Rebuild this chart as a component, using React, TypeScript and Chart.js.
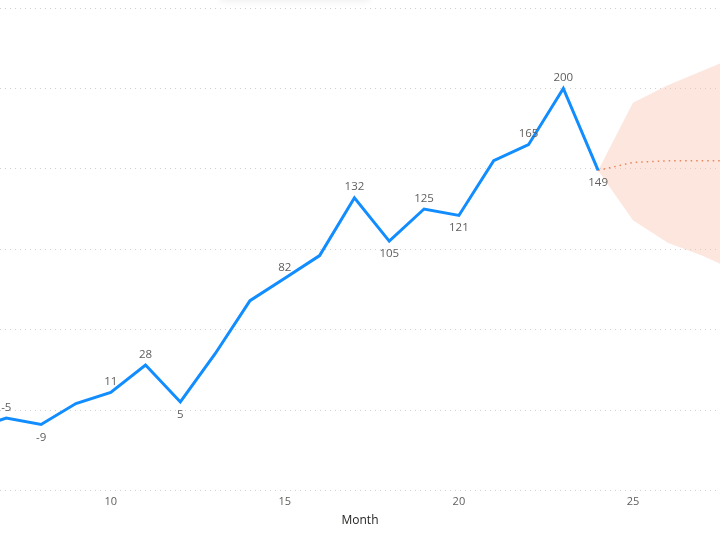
import React, { useEffect, useRef } from "react";
import { Chart, registerables } from "chart.js";

Chart.register(...registerables);

const months = [6, 7, 8, 9, 10, 11, 12, 13, 14, 15, 16, 17, 18, 19, 20, 21, 22, 23, 24];
const actual = [-12, -5, -9, 4, 11, 28, 5, 35, 68, 82, 96, 132, 105, 125, 121, 155, 165, 200, 149];
const labelPlacement = ["", "above", "below", "", "above", "above", "below", "", "", "above", "", "above", "below", "above", "below", "", "above", "above", "below"];

const forecastMonths = [24, 25, 26, 27, 28];
const forecast = [149, 154, 155, 155, 155];
const upperBound = [149, 191, 202, 211, 220];
const lowerBound = [149, 118, 104, 96, 86];

const xTicks = [10, 15, 20, 25];
const yGrid = [-50, 0, 50, 100, 150, 200, 250];

const labelsPlugin = {
  id: "pointLabels",
  afterDatasetsDraw(chart: any) {
    const meta = chart.getDatasetMeta(0);
    const ctx = chart.ctx;
    ctx.save();
    ctx.font = "11.5px 'Segoe UI', 'Open Sans', sans-serif";
    ctx.fillStyle = "#605E5C";
    ctx.textAlign = "center";
    meta.data.forEach((pt: any, i: number) => {
      const pos = labelPlacement[i];
      if (!pos) return;
      const text = String(actual[i]);
      if (pos === "above") {
        ctx.textBaseline = "bottom";
        ctx.fillText(text, pt.x, pt.y - 5);
      } else {
        ctx.textBaseline = "top";
        ctx.fillText(text, pt.x, pt.y + 7);
      }
    });
    ctx.restore();
  },
};

export default function App() {
  const ref = useRef<HTMLCanvasElement>(null);
  useEffect(() => {
    document.body.style.margin = "0";
    const toPts = (xs: number[], ys: number[]) => xs.map((x, i) => ({ x, y: ys[i] }));
    const chart = new Chart(ref.current!, {
      type: "line",
      data: {
        datasets: [
          {
            data: toPts(months, actual),
            borderColor: "#118DFF",
            borderWidth: 3,
            pointRadius: 0,
            tension: 0,
            order: 0,
          },
          {
            data: toPts(forecastMonths, upperBound),
            borderWidth: 0,
            pointRadius: 0,
            backgroundColor: "rgba(246, 190, 168, 0.38)",
            fill: "+1",
            order: 2,
          },
          {
            data: toPts(forecastMonths, lowerBound),
            borderWidth: 0,
            pointRadius: 0,
            fill: false,
            order: 2,
          },
          {
            data: toPts(forecastMonths, forecast),
            borderColor: "#E8855A",
            borderWidth: 1.5,
            borderDash: [1.5, 4],
            pointRadius: 0,
            fill: false,
            order: 1,
          },
        ],
      },
      options: {
        animation: false,
        responsive: false,
        maintainAspectRatio: false,
        layout: { padding: 0 },
        plugins: { legend: { display: false }, tooltip: { enabled: false } },
        scales: {
          x: {
            type: "linear",
            min: 6.82,
            max: 27.5,
            afterBuildTicks: (s: any) => {
              s.ticks = xTicks.map((v) => ({ value: v }));
            },
            grid: { display: false, drawTicks: false },
            border: { display: false },
            ticks: {
              color: "#605E5C",
              font: { size: 11, family: "'Segoe UI', 'Open Sans', sans-serif" },
              padding: 5,
              maxRotation: 0,
            },
            title: {
              display: true,
              text: "Month",
              color: "#252423",
              font: { size: 12, family: "'Segoe UI', 'Open Sans', sans-serif" },
              padding: { top: 0, bottom: 12 },
            },
          },
          y: {
            min: -50,
            max: 250,
            afterBuildTicks: (s: any) => {
              s.ticks = yGrid.map((v) => ({ value: v }));
            },
            display: true,
            position: "left",
            ticks: { display: false },
            border: { display: false, dash: [1, 4] },
            grid: {
              color: "#D0D0D0",
              lineWidth: 1,
              drawTicks: false,
              tickLength: 0,
            },
          },
        },
      },
      plugins: [labelsPlugin],
    } as any);
    return () => chart.destroy();
  }, []);
  return (
    <div style={{ position: "fixed", left: 0, top: 0, width: 720, height: 540, background: "#fff", overflow: "hidden" }}>
      <div
        style={{
          position: "absolute",
          left: 220,
          top: -12,
          width: 150,
          height: 12,
          boxShadow: "0 2px 6px rgba(0,0,0,0.06)",
          borderRadius: 4,
        }}
      />
      <canvas ref={ref} width={720} height={532} style={{ position: "absolute", left: 0, top: 8 }} />
    </div>
  );
}
